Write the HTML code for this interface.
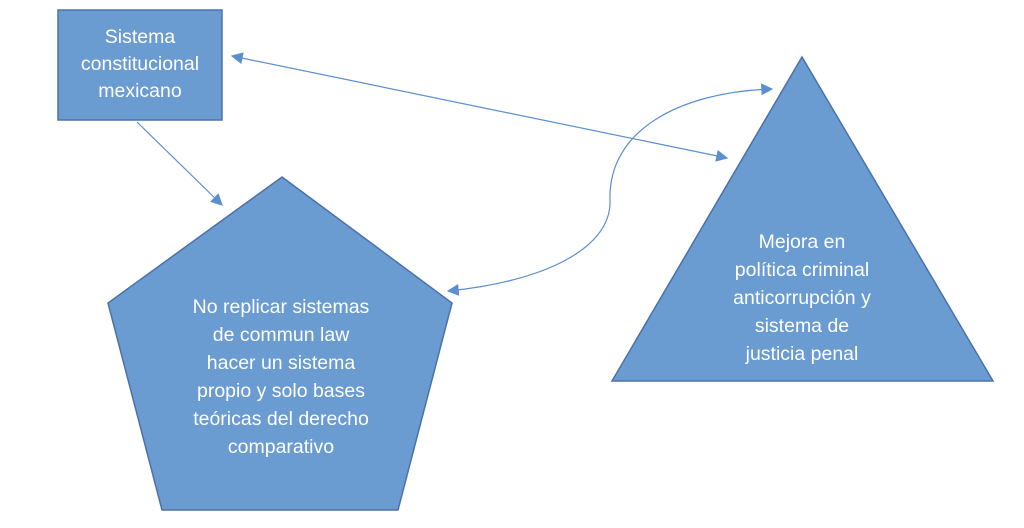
<!DOCTYPE html>
<html><head><meta charset="utf-8"><style>
html,body{margin:0;padding:0;background:#fff;}
svg{display:block;}
text{font-family:"Liberation Sans",sans-serif;font-size:19.5px;fill:#fff;text-anchor:middle;}
</style></head><body>
<svg width="1024" height="528" viewBox="0 0 1024 528" xmlns="http://www.w3.org/2000/svg">
<defs>
<marker id="ah" viewBox="0 0 10 10" refX="9" refY="5" markerWidth="12" markerHeight="12" markerUnits="userSpaceOnUse" orient="auto-start-reverse">
<path d="M0,0 L10,5 L0,10 z" fill="#5b8fd0"/>
</marker>
</defs>
<rect x="58" y="10" width="164" height="110" fill="#6a9bd1" stroke="#4a72a8" stroke-width="1.5"/>
<text x="140" y="43">Sistema</text>
<text x="140" y="70">constitucional</text>
<text x="140" y="97">mexicano</text>

<polygon points="282,177 452,303 398,510 162,510 108,303" fill="#6a9bd1" stroke="#4a72a8" stroke-width="1.5"/>
<text x="281" y="313">No replicar sistemas</text>
<text x="281" y="341">de commun law</text>
<text x="281" y="369">hacer un sistema</text>
<text x="281" y="397">propio y solo bases</text>
<text x="281" y="425">teóricas del derecho</text>
<text x="281" y="453">comparativo</text>

<polygon points="802,57 993,381 612,381" fill="#6a9bd1" stroke="#4a72a8" stroke-width="1.5"/>
<text x="802" y="248">Mejora en</text>
<text x="802" y="276">política criminal</text>
<text x="802" y="304">anticorrupción y</text>
<text x="802" y="332">sistema de</text>
<text x="802" y="360">justicia penal</text>

<g stroke="#5b8fd0" stroke-width="1.2" fill="none">
<line x1="137" y1="122" x2="222" y2="205" marker-end="url(#ah)"/>
<line x1="232" y1="56" x2="727" y2="158" marker-start="url(#ah)" marker-end="url(#ah)"/>
<path d="M448,291 C540,282 612,250 610,200 C608,130 680,92 772,89" marker-start="url(#ah)" marker-end="url(#ah)"/>
</g>
</svg>
</body></html>
